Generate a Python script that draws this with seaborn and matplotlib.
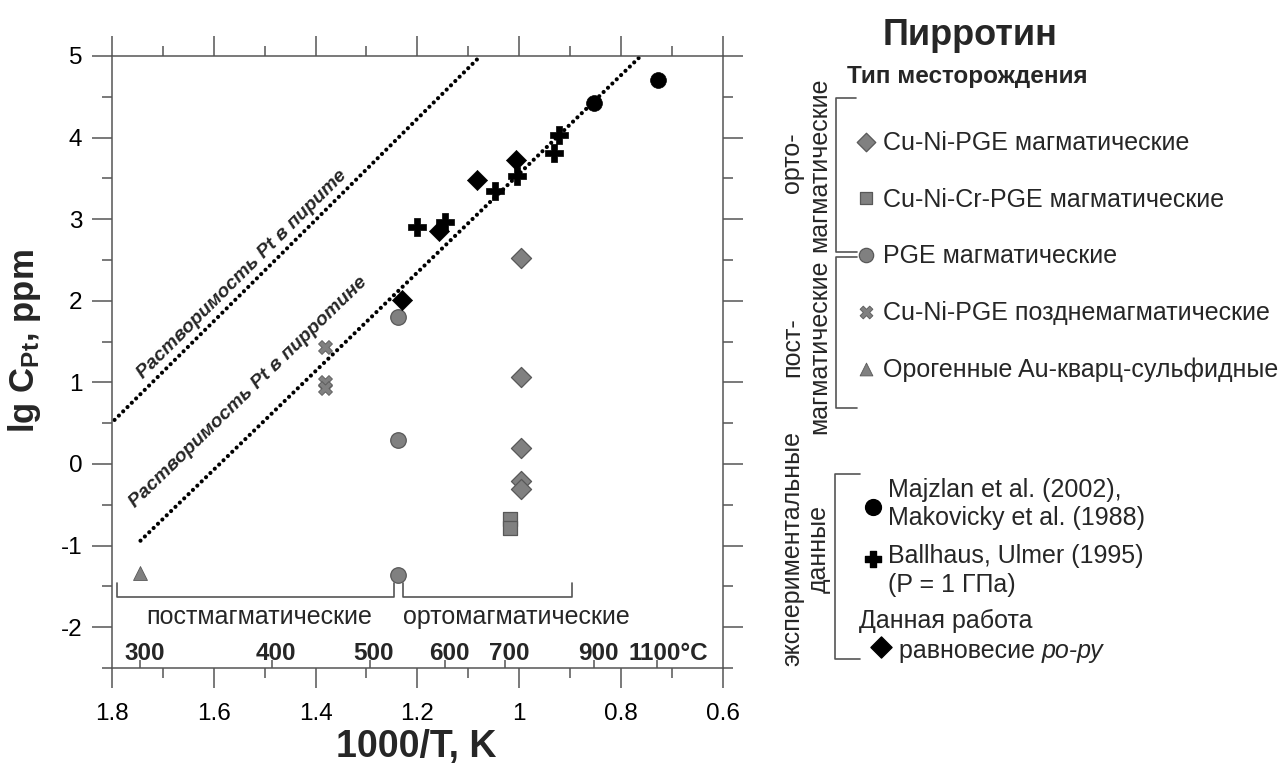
import numpy as np
import matplotlib
matplotlib.use("Agg")
import matplotlib.pyplot as plt
import seaborn as sns
from matplotlib.ticker import MultipleLocator, FuncFormatter

# ------------------------------------------------------------------
# Data (x = 1000/T, y = lg C_Pt)
# ------------------------------------------------------------------
cuni_x = [0.997, 0.997, 0.997, 0.997, 0.997]
cuni_y = [2.53, 1.07, 0.19, -0.21, -0.31]
cunicr_x = [1.017, 1.017]
cunicr_y = [-0.68, -0.78]
pge_x = [1.238, 1.238, 1.238]
pge_y = [1.80, 0.30, -1.36]
late_x = [1.382, 1.382, 1.382]
late_y = [1.43, 1.00, 0.93]
orog_x = [1.745]
orog_y = [-1.33]
majz_x = [0.728, 0.852]
majz_y = [4.70, 4.43]
ball_x = [0.922, 0.932, 1.005, 1.048, 1.145, 1.200]
ball_y = [4.03, 3.81, 3.53, 3.35, 2.97, 2.91]
work_x = [1.007, 1.083, 1.158, 1.230]
work_y = [3.73, 3.48, 2.85, 2.01]

# solubility lines
py_line_x = [1.795, 1.076]
py_line_y = [0.54, 5.0]
po_line_x = [1.744, 0.761]
po_line_y = [-0.94, 5.0]

temps_c = [300, 400, 500, 600, 700, 900, 1100]

# temperature domains (1000/T ranges) and where their names sit
post_range = (1.791, 1.245)
ortho_range = (1.229, 0.896)
domain_names = ["постмагматические", "ортомагматические"]
domain_name_x = [1.511, 1.005]

GRAY = "#808080"
GEDGE = "#585858"
SPINE = "#555555"
LEG_FS = 18

styles = {
    "cuni": dict(marker="D", fc=GRAY, ec=GEDGE, s=105, lw=0.9),
    "cunicr": dict(marker="s", fc=GRAY, ec=GEDGE, s=100, lw=0.9),
    "pge": dict(marker="o", fc=GRAY, ec=GEDGE, s=125, lw=0.9),
    "late": dict(marker="X", fc=GRAY, ec=GEDGE, s=100, lw=0.6),
    "orog": dict(marker="^", fc=GRAY, ec=GEDGE, s=100, lw=0.6),
    "majz": dict(marker="o", fc="black", ec="black", s=130, lw=0.5),
    "ball": dict(marker="P", fc="black", ec="black", s=150, lw=0.5),
    "work": dict(marker="D", fc="black", ec="black", s=105, lw=0.5),
}

sns.set_theme(style="ticks")
plt.rcParams["font.family"] = ["Liberation Sans", "DejaVu Sans"]
plt.rcParams["axes.unicode_minus"] = False
plt.rcParams["mathtext.fontset"] = "custom"
plt.rcParams["mathtext.rm"] = "Liberation Sans"
plt.rcParams["mathtext.bf"] = "Liberation Sans:bold"
plt.rcParams["mathtext.it"] = "Liberation Sans:italic"

W, H = 1287, 768
fig = plt.figure(figsize=(W / 100, H / 100), dpi=100)
ax = fig.add_axes([112 / W, 1 - 668 / H, 610.7 / W, 612 / H])

# ------------------------------------------------------------------
# Main plot
# ------------------------------------------------------------------
for lx, ly in [(py_line_x, py_line_y), (po_line_x, po_line_y)]:
    ax.plot(lx, ly, color="black", lw=3.0, linestyle=(0, (0.01, 1.45)),
            dash_capstyle="round", zorder=2)

groups = [("cuni", cuni_x, cuni_y), ("cunicr", cunicr_x, cunicr_y),
          ("pge", pge_x, pge_y), ("late", late_x, late_y),
          ("orog", orog_x, orog_y), ("majz", majz_x, majz_y),
          ("ball", ball_x, ball_y), ("work", work_x, work_y)]
for name, xs, ys in groups:
    st = styles[name]
    sns.scatterplot(x=xs, y=ys, marker=st["marker"], color=st["fc"],
                    edgecolor=st["ec"], s=st["s"], linewidth=st["lw"],
                    ax=ax, zorder=3, legend=False)

ax.set_xlim(1.8, 0.6)
ax.set_ylim(-2.5, 5)
ax.xaxis.set_major_locator(MultipleLocator(0.2))
ax.xaxis.set_minor_locator(MultipleLocator(0.1))
ax.yaxis.set_major_locator(MultipleLocator(1))
ax.yaxis.set_minor_locator(MultipleLocator(0.5))
ax.xaxis.set_major_formatter(FuncFormatter(lambda v, p: f"{v:g}"))
ax.yaxis.set_major_formatter(FuncFormatter(lambda v, p: f"{v:g}"))

for sp in ax.spines.values():
    sp.set_visible(True)
    sp.set_color(SPINE)
    sp.set_linewidth(1.1)
ax.tick_params(which="both", direction="out", top=True, right=True,
               labeltop=False, labelright=False, color=SPINE, width=1.1)
ax.tick_params(which="major", length=14.5)
ax.tick_params(which="minor", length=7.2)
ax.tick_params(axis="x", which="major", pad=11, labelsize=17.5, labelcolor="black")
ax.tick_params(axis="y", which="major", pad=7, labelsize=17.5, labelcolor="black")

ax.set_xlabel("1000/T, K", fontsize=27, fontweight="bold", va="baseline")
ax.xaxis.set_label_coords(0.4975, (668 - 757) / 612)
ax.set_ylabel(r"lg C$_{\mathbf{Pt}}$, ppm", fontsize=25, fontweight="bold",
              va="center")
ax.yaxis.set_label_coords((25 - 112) / 610.7, (668 - 341) / 612)

# temperature scale inside the bottom axis
xt = ax.get_xaxis_transform()
temp_pos = [1000.0 / (t + 273.15) for t in temps_c]
ax.vlines(temp_pos, 0, 8 / 612, transform=xt, color=SPINE, lw=1.1)
for t, p in zip(temps_c, temp_pos):
    if t == temps_c[-1]:
        ax.annotate(f"{t}°C", xy=(p, 0.013), xycoords=xt, xytext=(-21, 0),
                    textcoords="offset points", ha="left", va="baseline",
                    fontsize=17.5, fontweight="bold")
    else:
        ax.annotate(f"{t}", xy=(p, 0.013), xycoords=xt, xytext=(3, 0),
                    textcoords="offset points", ha="center", va="baseline",
                    fontsize=17.5, fontweight="bold")

# temperature-domain brackets
yb, yt = -1.632, -1.464
for (x0, x1), lab, lx in zip([post_range, ortho_range], domain_names, domain_name_x):
    ax.plot([x0, x0, x1, x1], [yt, yb, yb, yt], color=SPINE, lw=1.2,
            clip_on=False, zorder=2)
    ax.text(lx, -1.958, lab, ha="center", va="baseline", fontsize=18)

# labels along the solubility lines
def line_angle(lx, ly):
    p = ax.transData.transform(np.column_stack([lx, ly]))
    return np.degrees(np.arctan2(p[1, 1] - p[0, 1], p[1, 0] - p[0, 0]))

ax.text(1.544, 2.326, "Растворимость Pt в пирите", rotation=line_angle(py_line_x, py_line_y),
        rotation_mode="anchor", ha="center", va="center", fontsize=14,
        fontweight="bold", fontstyle="italic")
ax.text(1.532, 0.879, "Растворимость Pt в пирротине", rotation=line_angle(po_line_x, po_line_y),
        rotation_mode="anchor", ha="center", va="center", fontsize=14,
        fontweight="bold", fontstyle="italic")

# ------------------------------------------------------------------
# Legend panel (pixel coordinates overlay)
# ------------------------------------------------------------------
lg = fig.add_axes([0, 0, 1, 1], zorder=5)
lg.set_xlim(0, W)
lg.set_ylim(H, 0)
lg.axis("off")

lg.text(970, 45, "Пирротин", ha="center", va="baseline", fontsize=26,
        fontweight="bold")
lg.text(847, 83, "Тип месторождения", ha="left", va="baseline", fontsize=17.5,
        fontweight="bold")

type_entries = [("cuni", "Cu-Ni-PGE магматические"),
                ("cunicr", "Cu-Ni-Cr-PGE магматические"),
                ("pge", "PGE магматические"),
                ("late", "Cu-Ni-PGE позднемагматические"),
                ("orog", "Орогенные Au-кварц-сульфидные")]
for i, (name, lab) in enumerate(type_entries):
    st = styles[name]
    ym = 141.7 + i * 56.7
    lg.scatter([866], [ym], marker=st["marker"], c=st["fc"], edgecolors=st["ec"],
               s=st["s"] * 0.85, linewidths=st["lw"])
    lg.text(883, 150 + i * 56.7, lab, ha="left", va="baseline", fontsize=LEG_FS)

bk = dict(color=SPINE, lw=1.2)
lg.plot([856, 836, 836, 857], [98, 98, 251.7, 251.7], **bk)
lg.plot([857, 836, 836, 857], [256.7, 256.7, 408, 408], **bk)
lg.plot([860, 835, 835, 860], [474, 474, 659, 659], **bk)

rot = dict(rotation=90, ha="center", va="center", fontsize=LEG_FS)
lg.text(792, 163, "орто-", **rot)
lg.text(819, 165, "магматические", **rot)
lg.text(792, 347, "пост-", **rot)
lg.text(819, 347, "магматические", **rot)
lg.text(792, 548, "экспериментальные", **rot)
lg.text(819, 549, "данные", **rot)

st = styles["majz"]
lg.scatter([873], [507], marker="o", c="black", s=st["s"])
lg.text(888, 496.7, "Majzlan et al. (2002),", ha="left", va="baseline", fontsize=LEG_FS)
lg.text(888, 525, "Makovicky et al. (1988)", ha="left", va="baseline", fontsize=LEG_FS)
st = styles["ball"]
lg.scatter([873], [559], marker="P", c="black", s=st["s"] * 0.8)
lg.text(888, 563.3, "Ballhaus, Ulmer (1995)", ha="left", va="baseline", fontsize=LEG_FS)
lg.text(888, 591.7, "(P = 1 ГПа)", ha="left", va="baseline", fontsize=LEG_FS)
lg.text(859, 628.3, "Данная работа", ha="left", va="baseline", fontsize=LEG_FS)
st = styles["work"]
lg.scatter([881], [647], marker="D", c="black", s=st["s"] * 1.1)
t1 = lg.text(899, 658.3, "равновесие ", ha="left", va="baseline", fontsize=LEG_FS)
lg.annotate("ро-ру", xy=(1, 0), xycoords=t1, ha="left", va="bottom",
            fontsize=LEG_FS, fontstyle="italic")

fig.savefig("out.png", dpi=100)
